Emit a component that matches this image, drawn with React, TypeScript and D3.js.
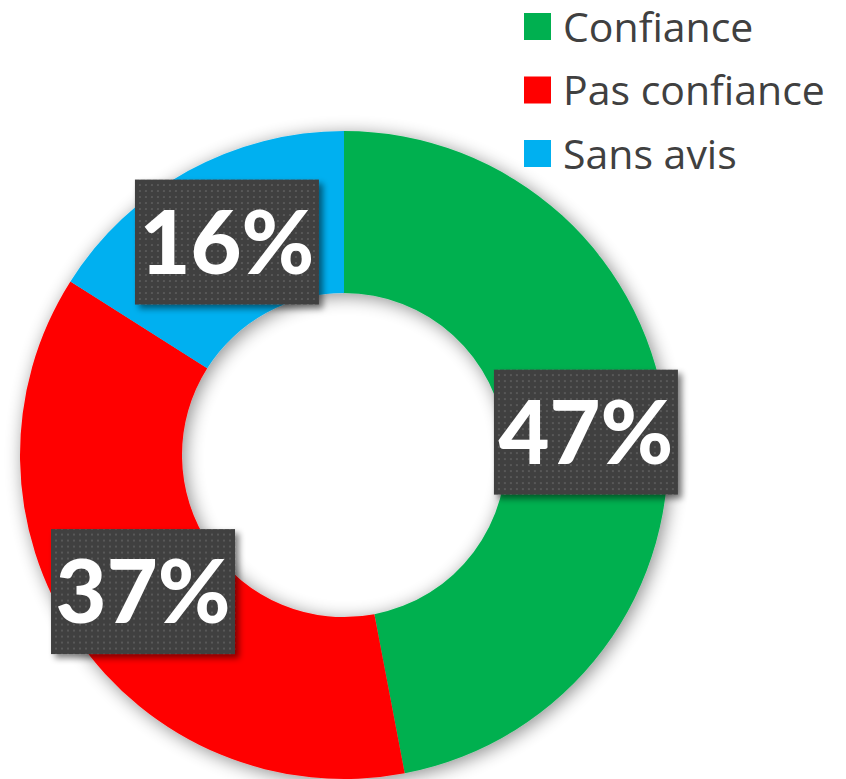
import React, { useRef, useEffect } from 'react';
import * as d3 from 'd3';

const categories = ['Confiance', 'Pas confiance', 'Sans avis'];
const values = [47, 37, 16];
const colors = ['#00b050', '#ff0000', '#00b0f0'];

const W = 846;
const H = 779;

const App = () => {
  const svgRef = useRef<SVGSVGElement | null>(null);

  useEffect(() => {
    const svg = d3.select(svgRef.current);
    svg.selectAll('*').remove();

    const defs = svg.append('defs');
    // soft glow behind the ring
    const glow = defs.append('filter').attr('id', 'glow').attr('x', '-20%').attr('y', '-20%').attr('width', '140%').attr('height', '140%');
    glow.append('feGaussianBlur').attr('in', 'SourceAlpha').attr('stdDeviation', 9).attr('result', 'b');
    glow.append('feOffset').attr('in', 'b').attr('dx', 3).attr('dy', 3).attr('result', 'o');
    glow.append('feComponentTransfer').attr('in', 'o').attr('result', 'c')
      .append('feFuncA').attr('type', 'linear').attr('slope', 0.45);
    const m = glow.append('feMerge');
    m.append('feMergeNode').attr('in', 'c');
    m.append('feMergeNode').attr('in', 'SourceGraphic');

    const boxShadow = defs.append('filter').attr('id', 'boxShadow').attr('x', '-20%').attr('y', '-20%').attr('width', '140%').attr('height', '140%');
    boxShadow.append('feGaussianBlur').attr('in', 'SourceAlpha').attr('stdDeviation', 3).attr('result', 'b');
    boxShadow.append('feOffset').attr('in', 'b').attr('dx', 4).attr('dy', 4).attr('result', 'o');
    boxShadow.append('feComponentTransfer').attr('in', 'o').attr('result', 'c')
      .append('feFuncA').attr('type', 'linear').attr('slope', 0.5);
    const m2 = boxShadow.append('feMerge');
    m2.append('feMergeNode').attr('in', 'c');
    m2.append('feMergeNode').attr('in', 'SourceGraphic');

    const pat = defs.append('pattern').attr('id', 'dots').attr('patternUnits', 'userSpaceOnUse')
      .attr('width', 6).attr('height', 6);
    pat.append('rect').attr('width', 6).attr('height', 6).attr('fill', '#404040');
    pat.append('rect').attr('x', 2).attr('y', 2).attr('width', 2).attr('height', 2).attr('fill', '#585858');

    const cx = 344, cy = 455, R = 324, r = 162;
    const pie = d3.pie<number>().sort(null).value(d => d);
    const arcs = pie(values);
    const arc = d3.arc<d3.PieArcDatum<number>>().innerRadius(r).outerRadius(R);
    const labelArc = d3.arc<d3.PieArcDatum<number>>().innerRadius(243).outerRadius(243);

    const g = svg.append('g').attr('transform', `translate(${cx},${cy})`);
    g.append('g').attr('filter', 'url(#glow)')
      .selectAll('path').data(arcs).enter().append('path')
      .attr('d', arc).attr('fill', (_, i) => colors[i]);

    const bw = 184, bh = 125;
    const lbl = g.selectAll('.lbl').data(arcs).enter().append('g').attr('class', 'lbl')
      .attr('transform', d => { const [x, y] = labelArc.centroid(d); return `translate(${x},${y})`; });
    lbl.append('rect').attr('x', -bw / 2).attr('y', -bh / 2).attr('width', bw).attr('height', bh)
      .attr('fill', 'url(#dots)').attr('filter', 'url(#boxShadow)');
    lbl.append('text').attr('text-anchor', 'middle').attr('dy', '0.36em')
      .attr('font-family', 'Lato, "Open Sans", sans-serif').attr('font-weight', 900)
      .attr('font-size', 88).attr('fill', '#ffffff')
      .text(d => `${d.data}%`);

    const leg = svg.append('g').attr('transform', 'translate(524,13)');
    const rows = leg.selectAll('g').data(categories).enter().append('g')
      .attr('transform', (_, i) => `translate(0,${i * 63.5})`);
    rows.append('rect').attr('width', 27).attr('height', 27).attr('fill', (_, i) => colors[i]);
    rows.append('text').attr('x', 39).attr('y', 14).attr('dy', '0.36em')
      .attr('font-family', '"Open Sans", sans-serif').attr('font-size', 41).attr('fill', '#404040')
      .text(d => d);
  }, []);

  return (
    <svg ref={svgRef} width={W} height={H}
      style={{ position: 'absolute', left: 0, top: 0, background: '#ffffff' }} />
  );
};

export default App;
